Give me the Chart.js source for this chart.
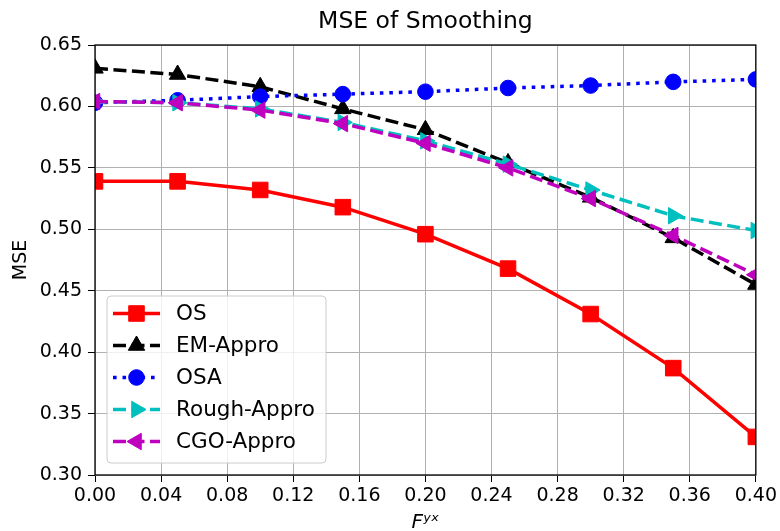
<!DOCTYPE html>
<html>
<head>
<meta charset="utf-8">
<script src="https://cdn.jsdelivr.net/npm/chart.js@4.4.1/dist/chart.umd.min.js"></script>
<style>
  html, body { margin: 0; padding: 0; background: #fff; }
</style>
</head>
<body>
<canvas id="mse" width="780" height="531"></canvas>
<script>
"use strict";
// values
var fyx = [0, 0.05, 0.1, 0.15, 0.2, 0.25, 0.3, 0.35, 0.4];
var osMse = [0.539, 0.539, 0.532, 0.518, 0.496, 0.468, 0.431, 0.387, 0.331];
var emMse = [0.631, 0.626, 0.616, 0.598, 0.581, 0.554, 0.526, 0.493, 0.455];
var osaMse = [0.603, 0.605, 0.608, 0.610, 0.612, 0.615, 0.617, 0.620, 0.622];
var roughMse = [0.604, 0.603, 0.598, 0.587, 0.572, 0.553, 0.532, 0.511, 0.499];
var cgoMse = [0.604, 0.603, 0.597, 0.586, 0.570, 0.550, 0.525, 0.495, 0.463];
var xTicks = [0, 0.04, 0.08, 0.12, 0.16, 0.2, 0.24, 0.28, 0.32, 0.36, 0.4];
var yTicks = [0.3, 0.35, 0.4, 0.45, 0.5, 0.55, 0.6, 0.65];

var FONT = "'DejaVu Sans', sans-serif";

function series(label, ys, color, style, radius, rotation, dash, order) {
  return {
    label: label,
    data: fyx.map(function (x, i) { return { x: x, y: ys[i] }; }),
    borderColor: color,
    backgroundColor: color,
    borderWidth: 3.5,
    borderDash: dash,
    pointStyle: style,
    pointRadius: radius,
    pointRotation: rotation,
    pointBackgroundColor: color,
    pointBorderColor: color,
    pointBorderWidth: 1,
    tension: 0,
    clip: 0,
    order: order
  };
}

var titlePlugin = {
  id: "titleText",
  afterDraw: function (chart) {
    var ctx = chart.ctx, a = chart.chartArea;
    ctx.save();
    ctx.fillStyle = "#000";
    ctx.font = "23.5px " + FONT;
    ctx.textAlign = "center";
    ctx.textBaseline = "middle";
    ctx.fillText("MSE of Smoothing", (a.left + a.right) / 2, 22);
    ctx.restore();
  }
};

var frameAndLegend = {
  id: "frameAndLegend",
  afterDatasetsDraw: function (chart) {
    var ctx = chart.ctx, a = chart.chartArea;
    ctx.save();
    ctx.strokeStyle = "#000";
    ctx.lineWidth = 1.3;
    ctx.strokeRect(a.left, a.top, a.right - a.left, a.bottom - a.top);

    // legend, lower left inside the axes
    var x0 = a.left + 12, w = 219, h = 167, y0 = a.bottom - 12 - h;
    ctx.beginPath();
    ctx.roundRect(x0, y0, w, h, 4);
    ctx.fillStyle = "rgba(255,255,255,0.8)";
    ctx.fill();
    ctx.lineWidth = 1;
    ctx.strokeStyle = "#cccccc";
    ctx.stroke();
    chart.data.datasets.forEach(function (d, i) {
      var y = y0 + 17.5 + i * 32;
      ctx.strokeStyle = d.borderColor;
      ctx.fillStyle = d.borderColor;
      ctx.lineWidth = d.borderWidth;
      ctx.setLineDash(d.borderDash || []);
      ctx.beginPath();
      ctx.moveTo(x0 + 6, y);
      ctx.lineTo(x0 + 53, y);
      ctx.stroke();
      ctx.setLineDash([]);
      ctx.lineWidth = 1;
      Chart.helpers.drawPoint(ctx, {
        pointStyle: d.pointStyle, radius: d.pointRadius,
        rotation: d.pointRotation, borderWidth: 1
      }, x0 + 29.5, y);
      ctx.fillStyle = "#000";
      ctx.font = "21.5px " + FONT;
      ctx.textAlign = "left";
      ctx.textBaseline = "middle";
      ctx.fillText(d.label, x0 + 69, y + 1);
    });
    ctx.restore();
  }
};

new Chart(document.getElementById("mse"), {
  type: "line",
  data: {
    datasets: [
      series("OS", osMse, "#ff0000", "rect", 11, 0, [], 4),
      series("EM-Appro", emMse, "#000000", "triangle", 9.5, 0, [13, 5.5], 3),
      series("OSA", osaMse, "#0000ff", "circle", 7.8, 0, [3.6, 5.9], 2),
      series("Rough-Appro", roughMse, "#00bfbf", "triangle", 9.5, 90, [13, 5.5], 1),
      series("CGO-Appro", cgoMse, "#bf00bf", "triangle", 9.5, -90, [13, 5.5], 0)
    ]
  },
  options: {
    responsive: false,
    animation: false,
    layout: { padding: { top: 45, right: 23, left: 0, bottom: 0 } },
    plugins: { legend: { display: false }, title: { display: false }, tooltip: { enabled: false } },
    scales: {
      x: {
        type: "linear",
        min: 0,
        max: 0.4,
        afterBuildTicks: function (s) { s.ticks = xTicks.map(function (v) { return { value: v }; }); },
        afterFit: function (s) { s.height = 56; },
        ticks: {
          autoSkip: false, maxRotation: 0, color: "#000", padding: 3,
          font: { family: FONT, size: 19 },
          callback: function (v) { return Number(v).toFixed(2); }
        },
        grid: { color: "#b0b0b0", lineWidth: 1, tickColor: "#000", tickLength: 7 },
        border: { display: false },
        title: {
          display: true, text: "F\u02B8\u02E3", color: "#000",
          font: { family: FONT, size: 20, style: "italic" },
          padding: { top: 0, bottom: -4 }
        }
      },
      y: {
        type: "linear",
        min: 0.3,
        max: 0.65,
        afterBuildTicks: function (s) { s.ticks = yTicks.map(function (v) { return { value: v }; }); },
        afterFit: function (s) { s.width = 95; },
        ticks: {
          color: "#000", padding: 6,
          font: { family: FONT, size: 19 },
          callback: function (v) { return Number(v).toFixed(2); }
        },
        grid: { color: "#b0b0b0", lineWidth: 1, tickColor: "#000", tickLength: 7 },
        border: { display: false },
        title: {
          display: true, text: "MSE", color: "#000",
          font: { family: FONT, size: 19 },
          padding: { top: 10, bottom: 0 }
        }
      }
    }
  },
  plugins: [titlePlugin, frameAndLegend]
});
</script>
</body>
</html>
